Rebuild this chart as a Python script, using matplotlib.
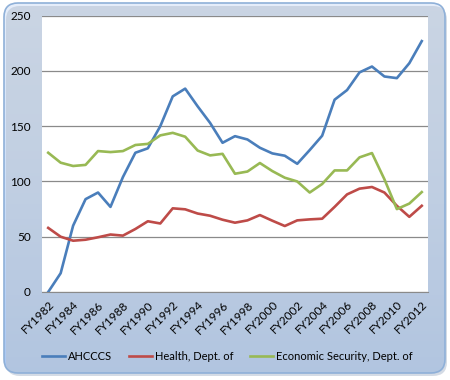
import numpy as np
import matplotlib
matplotlib.use("Agg")
import matplotlib.pyplot as plt
from matplotlib.patches import FancyBboxPatch
from matplotlib.colors import LinearSegmentedColormap

plt.rcParams['font.family'] = ['Lato', 'DejaVu Sans']

years = ["FY%d" % y for y in range(1982, 2013)]

ahcccs = [0, 17, 60, 84, 90, 77, 104, 126, 130, 150, 177, 184, 168, 153, 135,
          141, 138, 130.5, 125.4, 123.3, 116, 128.4, 141.4, 174, 182.7, 198.7,
          204, 195, 193.5, 207, 227]
health = [58, 50, 46.4, 47.3, 49.5, 52, 51, 57, 64, 62, 75.7, 74.8, 71, 69, 65.4,
          62.7, 64.8, 69.6, 64.5, 59.7, 64.8, 65.7, 66.3, 77, 88.3, 93.5,
          95, 90, 78, 68, 78]
econ = [126, 117, 114, 115, 127.5, 126.6, 127.5, 133, 134, 141.7, 144, 140.5, 128,
        123.6, 125, 107, 109, 116.7, 109.4, 103.4, 100, 90, 97.7, 110, 110, 121.8,
        125.7, 102, 75, 80, 90.4]

series_names = ["AHCCCS", "Health, Dept. of", "Economic Security, Dept. of"]
colors = ["#4a7ebb", "#be4b48", "#98b954"]

fig = plt.figure(figsize=(4.5, 3.8), dpi=100)

# gradient background inside rounded frame
bg = fig.add_axes([0, 0, 1, 1], zorder=-10)
bg.set_xlim(0, 450)
bg.set_ylim(380, 0)
bg.axis("off")
grad = np.linspace(0, 1, 256).reshape(-1, 1)
cmap = LinearSegmentedColormap.from_list("bgc", ["#e6eefb", "#cddff8", "#a9c7f3"])
shadow = FancyBboxPatch((6, 6), 441, 370, boxstyle="round,pad=0,rounding_size=14",
                        fc="#b8c4d4", ec="none", alpha=0.6)
bg.add_patch(shadow)
frame = FancyBboxPatch((4, 3), 441, 370, boxstyle="round,pad=0,rounding_size=14",
                       fc="none", ec="#8fb0d8", lw=1.2)
bg.add_patch(frame)
im = bg.imshow(grad, extent=(4, 445, 373, 3), cmap=cmap, aspect="auto")
im.set_clip_path(frame)

ax = fig.add_axes([0.0933, 0.2316, 0.8578, 0.7271])
ax.set_facecolor("white")
x = np.arange(len(years))
for vals, name, c in zip([ahcccs, health, econ], series_names, colors):
    ax.plot(x, vals, color=c, lw=1.9, label=name, solid_joinstyle="round")

ax.set_xlim(-0.5, len(years) - 0.5)
ax.set_ylim(0, 250)
ax.set_yticks(range(0, 251, 50))
ax.yaxis.grid(True, color="#8a8a8a", lw=0.9)
ax.set_axisbelow(True)
for s in ["top", "right", "left"]:
    ax.spines[s].set_visible(False)
ax.spines["bottom"].set_color("#8a8a8a")
ax.tick_params(axis="both", length=0, labelsize=8.5, colors="black")
ax.tick_params(axis="y", pad=8)
ax.set_xticks(x[::2])
ax.set_xticklabels(years[::2], rotation=45, ha="right", va="top",
                   rotation_mode="anchor")
ax.tick_params(axis="x", pad=5)

leg = fig.legend(loc="center", bbox_to_anchor=(0.505, 0.063), ncol=3, frameon=False,
                 fontsize=8, handlelength=2.1, handletextpad=0.25, columnspacing=1.5)

fig.savefig("out.png", dpi=100)
